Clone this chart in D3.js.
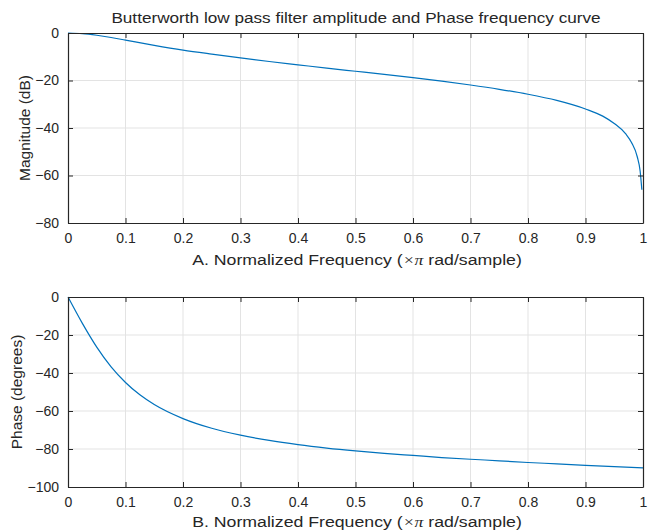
<!DOCTYPE html>
<html>
<head>
<meta charset="utf-8">
<script src="https://cdn.jsdelivr.net/npm/d3@7"></script>
<style>
  body { margin: 0; background: #fff; }
  text { font-family: "Liberation Sans", Arial, sans-serif; fill: #262626; }
  .grid line { stroke: #e3e3e3; stroke-width: 1; }
  .axis path, .axis line { stroke: #262626; }
</style>
</head>
<body>
<div id="chartContainer"></div>
<script>
// Normalized frequency samples (x pi rad/sample)
const freq = [0, 0.025, 0.05, 0.075, 0.1, 0.15, 0.2, 0.25, 0.3, 0.35, 0.4, 0.45, 0.5,
  0.55, 0.6, 0.65, 0.7, 0.75, 0.8, 0.85, 0.9, 0.93, 0.95, 0.97, 0.98, 0.99, 0.995, 0.998];
// Magnitude in dB
const magnitude = [0, -0.26, -0.96, -1.9, -3.0, -5.2, -7.2, -8.9, -10.5, -12.0, -13.4, -14.8, -16.1,
  -17.4, -18.8, -20.3, -21.9, -23.7, -25.8, -28.4, -32.0, -35.0, -38.1, -42.5, -46.1, -52.1, -58.1, -66.0];
// Phase samples and values in degrees
const phaseFreq = [0, 0.025, 0.05, 0.075, 0.1, 0.125, 0.15, 0.2, 0.25, 0.3, 0.35, 0.4, 0.45, 0.5,
  0.55, 0.6, 0.65, 0.7, 0.75, 0.8, 0.85, 0.9, 0.95, 1.0];
const phase = [0, -13.9, -26.4, -36.8, -45, -51.5, -56.6, -64.0, -69.1, -72.7, -75.5, -77.7, -79.5, -81.0,
  -82.3, -83.4, -84.5, -85.4, -86.2, -87.1, -87.8, -88.6, -89.3, -89.9];

const xTicks = [0, 0.1, 0.2, 0.3, 0.4, 0.5, 0.6, 0.7, 0.8, 0.9, 1];
const magTicks = [0, -20, -40, -60, -80];
const phaseTicks = [0, -20, -40, -60, -80, -100];

const width = 656;
const height = 530;
const left = 68, right = 643;

const svg = d3
  .select('#chartContainer')
  .append('svg')
  .attr('width', width)
  .attr('height', height);

const x = d3.scaleLinear().domain([0, 1]).range([left, right]);

// stretch a centred text horizontally so it spans the wanted width
function fitWidth(sel, cx, cy, w) {
  const bw = sel.node().getBBox().width;
  sel.attr('x', 0).attr('y', 0)
    .attr('transform', `translate(${cx},${cy}) scale(${w / bw},1)`);
}

function panel(top, bottom, yDomain, yTickVals, xs, ys, ylabel, ylabelX, xlabelPrefix, xlabelY) {
  const y = d3.scaleLinear().domain(yDomain).range([bottom, top]);

  // grid
  const grid = svg.append('g').attr('class', 'grid');
  grid.selectAll('.vx')
    .data(xTicks.slice(1, -1))
    .enter()
    .append('line')
    .attr('x1', d => x(d)).attr('x2', d => x(d))
    .attr('y1', top).attr('y2', bottom);
  grid.selectAll('.hy')
    .data(yTickVals.slice(1, -1))
    .enter()
    .append('line')
    .attr('x1', left).attr('x2', right)
    .attr('y1', d => y(d)).attr('y2', d => y(d));

  // curve
  const line = d3.line()
    .x((d, i) => x(xs[i]))
    .y(d => y(d))
    .curve(d3.curveMonotoneX);
  svg.append('path')
    .attr('d', line(ys))
    .attr('fill', 'none')
    .attr('stroke', '#0072BD')
    .attr('stroke-width', 1.2);

  // axes with inward ticks, box
  const xb = svg.append('g')
    .attr('class', 'axis')
    .attr('transform', `translate(0,${bottom})`)
    .call(d3.axisBottom(x).tickValues(xTicks).tickFormat(d3.format('')).tickSizeInner(-5).tickSizeOuter(0).tickPadding(10));
  xb.selectAll('text').style('font-size', '14px');
  svg.append('g')
    .attr('class', 'axis')
    .attr('transform', `translate(0,${top})`)
    .call(d3.axisTop(x).tickValues(xTicks).tickFormat('').tickSizeInner(-5).tickSizeOuter(0));
  const yl = svg.append('g')
    .attr('class', 'axis')
    .attr('transform', `translate(${left},0)`)
    .call(d3.axisLeft(y).tickValues(yTickVals).tickSizeInner(-5).tickSizeOuter(0).tickPadding(9));
  yl.selectAll('text').style('font-size', '14px');
  svg.append('g')
    .attr('class', 'axis')
    .attr('transform', `translate(${right},0)`)
    .call(d3.axisRight(y).tickValues(yTickVals).tickFormat('').tickSizeInner(-5).tickSizeOuter(0));
  svg.selectAll('.axis path').attr('stroke-width', 1.2);

  // labels
  svg.append('text')
    .attr('transform', `translate(${ylabelX},${(top + bottom) / 2}) rotate(-90)`)
    .attr('text-anchor', 'middle')
    .style('font-size', '15.5px')
    .text(ylabel);

  const xl = svg.append('text')
    .attr('text-anchor', 'middle')
    .style('font-size', '15.5px');
  xl.append('tspan').text(xlabelPrefix + 'Normalized Frequency  (');
  xl.append('tspan').style('font-family', '"Liberation Serif", serif').style('font-style', 'italic').text('\u00d7\u03c0');
  xl.append('tspan').text(' rad/sample)');
  fitWidth(xl, 357, xlabelY, 330);
}

panel(33, 223, [-80, 0], magTicks, freq, magnitude, 'Magnitude (dB)', 30, 'A. ', 265);
panel(297, 487, [-100, 0], phaseTicks, phaseFreq, phase, 'Phase (degrees)', 22, 'B. ', 527);

const title = svg.append('text')
  .attr('text-anchor', 'middle')
  .style('font-size', '14.5px')
  .text('Butterworth low pass filter amplitude and Phase frequency curve');
fitWidth(title, 356, 23, 490);
</script>
</body>
</html>
